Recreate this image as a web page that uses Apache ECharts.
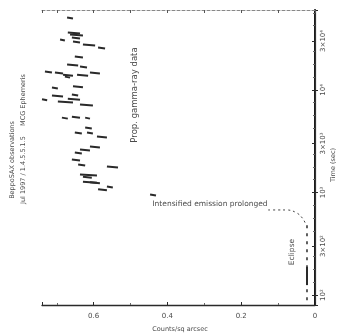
<!DOCTYPE html>
<html>
<head>
<meta charset="utf-8">
<script src="https://cdn.jsdelivr.net/npm/echarts@6/dist/echarts.min.js"></script>
<style>
  html, body { margin: 0; padding: 0; background: #fff; }
  #chart { width: 338px; height: 335px; }
</style>
</head>
<body>
<div id="chart"></div>
<script>
// flux error bars (left end, right end) at each time (sec)
var segTime  = [50200, 35800, 34200, 32000, 30600, 29300, 27400, 25600, 20900, 17500, 16700,
                14900, 14600, 13900, 13900, 14600, 13300, 10400, 10700, 8700, 8900, 8000,
                8100, 7600, 7100, 5300, 5400, 5300, 4250, 3790, 3790, 3470, 2770, 2590,
                2420, 2070, 1850, 1770, 1480, 1410, 1260, 1240, 1130, 1060, 944];
var segFluxL = [0.672, 0.670, 0.664, 0.659, 0.691, 0.656, 0.629, 0.588, 0.651, 0.672, 0.637,
                0.732, 0.705, 0.683, 0.645, 0.610, 0.678, 0.713, 0.656, 0.713, 0.659, 0.740,
                0.670, 0.697, 0.637, 0.686, 0.659, 0.623, 0.623, 0.651, 0.618, 0.591, 0.610, 0.637,
                0.651, 0.659, 0.642, 0.564, 0.637, 0.629, 0.629, 0.610, 0.564, 0.588, 0.447];
var segFluxR = [0.656, 0.637, 0.629, 0.637, 0.678, 0.637, 0.596, 0.569, 0.629, 0.642, 0.618,
                0.713, 0.683, 0.656, 0.615, 0.583, 0.664, 0.697, 0.629, 0.683, 0.642, 0.726,
                0.637, 0.656, 0.602, 0.670, 0.637, 0.610, 0.605, 0.632, 0.602, 0.564, 0.583, 0.610,
                0.632, 0.637, 0.623, 0.534, 0.591, 0.605, 0.591, 0.583, 0.548, 0.564, 0.431];

// dotted decay curve after the bright phase
var curveFlux = [0.127, 0.100, 0.076, 0.049, 0.033, 0.024];
var curveTime = [675, 675, 675, 630, 555, 480];

// eclipse: dashed vertical trace and solid part
var eclFlux = [0.0217, 0.0217];
var eclTime = [480, 89];
var eclSolidTime = [188, 125];

// right axis tick labels
var timeTicks  = [100, 300, 1000, 3000, 10000, 30000];
var timeLabels = ['10\u00b2', '3\u00d710\u00b2', '10\u00b3', '3\u00d710\u00b3', '10\u2074', '3\u00d710\u2074'];
var fluxTicks  = ['0', '0.2', '0.4', '0.6'];

var T_MIN = 80, T_MAX = 60000;

var segData = segTime.map(function (t, i) { return [segFluxL[i], segFluxR[i], t]; });
var curveData = curveTime.map(function (t, i) { return [curveFlux[i], t]; });
var eclData = eclTime.map(function (t, i) { return [eclFlux[i], t]; });
var eclSolid = eclSolidTime.map(function (t) { return [eclFlux[0], t]; });

var ink = '#2a2a2a';
var txt = '#4a4a4a';
var chart = echarts.init(document.getElementById('chart'));
chart.setOption({
    animation: false,
    backgroundColor: '#fff',
    grid: { left: 42, right: 23, top: 10, bottom: 30 },
    xAxis: [
        {
            type: 'value', min: 0, max: 0.74, interval: 0.2, inverse: true,
            axisLine: { lineStyle: { color: ink, width: 1.3 } },
            axisTick: { inside: true, length: 3, lineStyle: { color: ink } },
            minorTick: { show: true, splitNumber: 2, length: 2, lineStyle: { color: '#666' } },
            splitLine: { show: false },
            axisLabel: {
                showMaxLabel: false, color: txt, fontSize: 7, margin: 8,
                fontFamily: 'DejaVu Sans',
                formatter: function (v) { return fluxTicks[Math.round(v / 0.2)] || ''; }
            }
        },
        {
            type: 'value', min: 0, max: 0.74, interval: 0.1, inverse: true, position: 'top',
            axisLine: { lineStyle: { color: '#888', width: 1, type: [3, 2] } },
            axisTick: { inside: true, length: 3, lineStyle: { color: '#555' } },
            axisLabel: { show: false }, splitLine: { show: false }
        }
    ],
    yAxis: [
        {
            type: 'log', logBase: 10, min: T_MIN, max: T_MAX, position: 'left',
            axisLine: { show: true, lineStyle: { color: '#000', width: 1.8 } },
            axisTick: { show: true, inside: true, length: 3, lineStyle: { color: ink } },
            axisLabel: { show: false }, splitLine: { show: false }
        },
        {
            type: 'value', min: Math.log10(T_MIN), max: Math.log10(T_MAX), position: 'right',
            axisLine: { show: true, lineStyle: { color: '#333', width: 1.2 } },
            axisTick: { show: true, inside: true, length: 3, lineStyle: { color: ink },
                        customValues: timeTicks.map(Math.log10) },
            minorTick: { show: true, splitNumber: 4, length: 2, lineStyle: { color: '#666' } },
            axisLabel: {
                customValues: timeTicks.map(Math.log10),
                color: txt, fontSize: 7, rotate: 90, margin: 5, fontFamily: 'DejaVu Sans',
                formatter: function (v) {
                    var i = timeTicks.findIndex(function (t) { return Math.abs(Math.log10(t) - v) < 1e-6; });
                    return i >= 0 ? timeLabels[i] : '';
                }
            },
            splitLine: { show: false }
        }
    ],
    series: [
        {
            type: 'custom', xAxisIndex: 0, yAxisIndex: 0,
            data: segData,
            encode: { x: [0, 1], y: 2 },
            renderItem: function (params, api) {
                var p1 = api.coord([api.value(0), api.value(2)]);
                var p2 = api.coord([api.value(1), api.value(2)]);
                return {
                    type: 'line',
                    shape: { x1: p1[0], y1: p1[1] - 0.5, x2: p2[0], y2: p2[1] + 0.5 },
                    style: { stroke: ink, lineWidth: 2 }
                };
            }
        },
        {
            type: 'line', xAxisIndex: 0, yAxisIndex: 0, data: curveData,
            showSymbol: false, smooth: 0.4,
            lineStyle: { color: '#444', width: 1, type: [2, 3] }
        },
        {
            type: 'line', xAxisIndex: 0, yAxisIndex: 0, data: eclData,
            showSymbol: false,
            lineStyle: { color: ink, width: 1.5, type: [3, 5] }
        },
        {
            type: 'line', xAxisIndex: 0, yAxisIndex: 0, data: eclSolid,
            showSymbol: false,
            lineStyle: { color: ink, width: 2 }
        }
    ],
    graphic: [
        { type: 'text', x: 12, y: 160, rotation: Math.PI / 2,
          style: { text: 'BeppoSAX observations', fontSize: 6.5, fill: txt, align: 'center', verticalAlign: 'middle', fontFamily: 'DejaVu Sans' } },
        { type: 'text', x: 23, y: 170, rotation: Math.PI / 2,
          style: { text: 'Jul 1997 / 1.4.5.5.1.5', fontSize: 6.5, fill: txt, align: 'center', verticalAlign: 'middle', fontFamily: 'DejaVu Sans' } },
        { type: 'text', x: 23, y: 100, rotation: Math.PI / 2,
          style: { text: 'MCG Ephemeris', fontSize: 6.5, fill: txt, align: 'center', verticalAlign: 'middle', fontFamily: 'DejaVu Sans' } },
        { type: 'text', x: 135, y: 95, rotation: Math.PI / 2,
          style: { text: 'Prop. gamma-ray data', fontSize: 8.5, fill: txt, align: 'center', verticalAlign: 'middle', fontFamily: 'DejaVu Sans' } },
        { type: 'text', x: 210, y: 204,
          style: { text: 'Intensified emission prolonged', fontSize: 7.5, fill: txt, align: 'center', verticalAlign: 'middle', fontFamily: 'DejaVu Sans' } },
        { type: 'text', x: 292, y: 252, rotation: Math.PI / 2,
          style: { text: 'Eclipse', fontSize: 7.5, fill: txt, align: 'center', verticalAlign: 'middle', fontFamily: 'DejaVu Sans' } },
        { type: 'text', x: 333, y: 165, rotation: Math.PI / 2,
          style: { text: 'Time (sec)', fontSize: 6.5, fill: txt, align: 'center', verticalAlign: 'middle', fontFamily: 'DejaVu Sans' } },
        { type: 'text', x: 180, y: 329,
          style: { text: 'Counts/sq arcsec', fontSize: 6.5, fill: txt, align: 'center', verticalAlign: 'middle', fontFamily: 'DejaVu Sans' } }
    ]
});
</script>
</body>
</html>
